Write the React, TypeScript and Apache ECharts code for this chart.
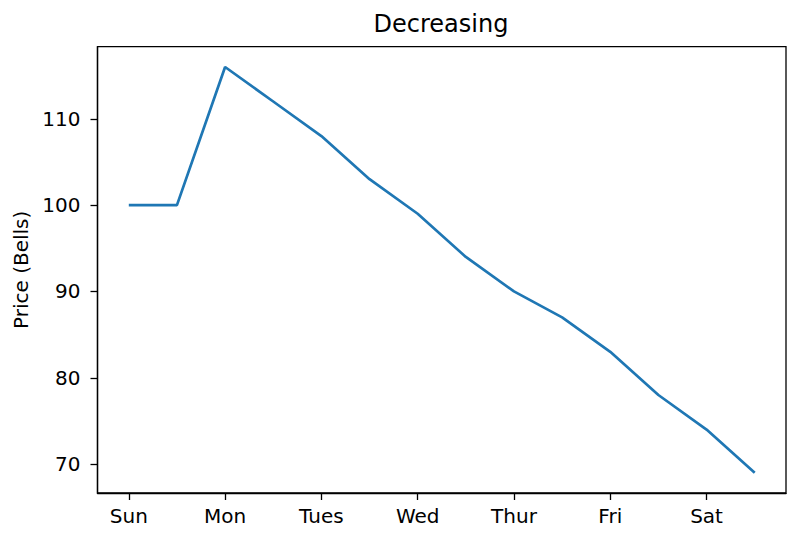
import { useEffect, useRef } from 'react';
import * as echarts from 'echarts';

// half-day slots, a label on each morning
const dayLabels = ['Sun', 'Mon', 'Tues', 'Wed', 'Thur', 'Fri', 'Sat'];
const prices = [100, 100, 116, 112, 108, 103, 99, 94, 90, 87, 83, 78, 74, 69];
const yTicks = [70, 80, 90, 100, 110];

const FONT = 'DejaVu Sans';

export default function App(): JSX.Element {
  const chartRef = useRef<HTMLDivElement>(null);

  useEffect(() => {
    if (!chartRef.current) return;
    const chart = echarts.init(chartRef.current, undefined, { renderer: 'svg' });

    const points = prices.map((p, i) => [i, p]);
    const lo = Math.min(...prices);
    const hi = Math.max(...prices);
    const yPad = (hi - lo) * 0.05;
    const xPad = (prices.length - 1) * 0.05;
    const labelTicks = dayLabels.map((_, i) => i * 2);

    const option: echarts.EChartsOption = {
      animation: false,
      backgroundColor: '#fff',
      title: {
        text: 'Decreasing',
        left: 441,
        top: 12,
        textAlign: 'center',
        padding: 0,
        textStyle: {
          fontFamily: FONT,
          fontSize: 24,
          fontWeight: 'normal',
          color: '#000',
        },
      },
      grid: {
        left: 97.5,
        right: 14,
        top: 46.7,
        bottom: 49,
        show: true,
        borderColor: '#000',
        borderWidth: 1.3,
        containLabel: false,
      },
      xAxis: {
        type: 'value',
        min: -xPad,
        max: prices.length - 1 + xPad,
        splitLine: { show: false },
        axisLine: { onZero: false, lineStyle: { color: '#000', width: 1.3 } },
        axisTick: {
          show: true,
          length: 7,
          customValues: labelTicks,
          lineStyle: { color: '#000', width: 1.3 },
        },
        axisLabel: {
          customValues: labelTicks,
          margin: 13,
          fontFamily: FONT,
          fontSize: 20,
          color: '#000',
          formatter: (v: number) => dayLabels[Math.round(v / 2)] ?? '',
        },
      },
      yAxis: {
        type: 'value',
        min: lo - yPad,
        max: hi + yPad,
        name: 'Price (Bells)',
        nameLocation: 'middle',
        nameGap: 64,
        nameTextStyle: {
          fontFamily: FONT,
          fontSize: 20,
          color: '#000',
        },
        splitLine: { show: false },
        axisLine: { show: true, onZero: false, lineStyle: { color: '#000', width: 1.3 } },
        axisTick: {
          show: true,
          length: 7,
          customValues: yTicks,
          lineStyle: { color: '#000', width: 1.3 },
        },
        axisLabel: {
          customValues: yTicks,
          margin: 17,
          fontFamily: FONT,
          fontSize: 20,
          color: '#000',
        },
      },
      series: [
        {
          name: 'Price',
          type: 'line',
          data: points,
          showSymbol: false,
          lineStyle: { color: '#1f77b4', width: 2.7 },
        },
      ],
    };

    chart.setOption(option);

    return () => {
      chart.dispose();
    };
  }, []);

  return (
    <div
      ref={chartRef}
      style={{ position: 'absolute', left: 0, top: 0, width: 800, height: 542 }}
    />
  );
}
